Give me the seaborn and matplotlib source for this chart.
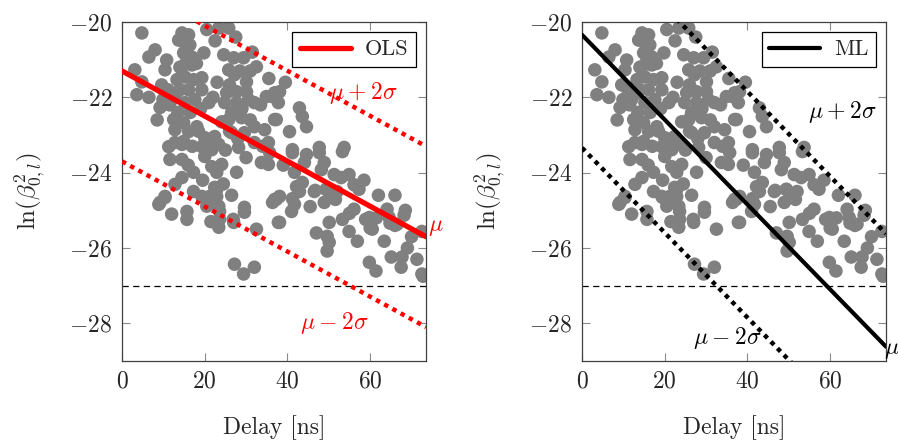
import numpy as np
import pandas as pd
import matplotlib
matplotlib.use("Agg")
import matplotlib.pyplot as plt
import seaborn as sns
from matplotlib.lines import Line2D

# ---- data ----
delay = [4.8, 14.5, 16.1, 13.7, 15.2, 16.4, 14.9, 16.9, 23.4, 25.8, 19.8, 24.6, 27.0, 29.4, 32.5,
         8.0, 6.5, 10.8, 10.4, 14.5, 16.9, 3.1, 4.8, 3.6, 9.6, 13.3, 15.2, 17.3, 19.3, 14.0,
         16.1, 19.3, 12.0, 15.2, 17.6, 21.0, 25.8, 27.2, 30.1, 26.0, 25.3, 27.7, 30.1, 24.8, 27.7,
         26.5, 30.6, 32.0, 34.9, 36.9, 37.8, 12.5, 14.9, 12.8, 16.1, 18.1, 12.8, 14.9, 20.0, 22.4,
         24.1, 25.8, 28.9, 26.5, 29.6, 32.0, 34.5, 32.0, 35.4, 36.9, 21.0, 23.4, 11.3, 14.5, 11.6,
         14.5, 19.3, 21.7, 28.2, 20.0, 21.7, 24.1, 22.9, 27.7, 33.7, 35.4, 17.3, 14.5, 12.8, 10.4,
         8.9, 17.3, 19.3, 21.0, 22.4, 22.9, 23.4, 20.5, 15.7, 15.7, 29.6, 23.6, 23.4, 27.0, 32.5,
         36.9, 37.8, 27.2, 32.0, 29.4, 35.7, 41.2, 44.6, 47.7, 53.3, 44.1, 48.9, 41.7, 48.2, 51.3,
         53.0, 54.9, 43.6, 42.9, 46.5, 49.4, 50.6, 48.9, 57.3, 37.3, 41.7, 41.0, 38.1, 50.1, 53.3,
         56.1, 59.8, 64.1, 64.6, 66.5, 54.9, 49.6, 50.1, 49.6, 56.9, 60.5, 63.4, 72.5, 59.8, 61.4,
         65.1, 67.7, 67.5, 71.3, 72.5, 38.1, 36.4, 42.9, 43.6, 44.6, 40.5, 37.3, 41.2, 47.7, 53.7,
         9.2, 10.4, 9.2, 19.5, 21.2, 22.9, 23.6, 26.9, 29.6, 36.4, 38.1, 41.2, 42.2, 46.7, 49.4,
         51.6, 55.0, 56.1, 58.9, 60.0, 64.8, 66.0, 68.2, 9.9, 11.1,
         14.0, 15.7, 18.0, 13.0, 16.5, 19.0, 22.0, 23.0, 28.5, 29.0, 31.0, 26.0, 28.0, 31.0, 33.5,
         34.0, 30.0, 25.0, 18.5, 11.5, 13.5, 17.0, 16.0, 19.5, 24.5, 26.5, 21.5, 12.0, 6.5, 8.5,
         20.5, 22.5, 27.5, 31.5, 35.5, 39.5, 39.0, 45.5, 47.0, 52.0, 58.5, 62.0, 66.0, 68.5, 70.0,
         69.0, 61.5, 72.8]
log_beta = [-20.29, -20.29, -20.34, -20.48, -20.56, -20.61, -20.82, -20.93, -20.16, -20.16, -20.82, -20.87, -20.95, -20.95, -21.19,
            -20.74, -20.93, -21.01, -21.27, -21.19, -21.14, -21.27, -21.59, -21.93, -21.67, -21.53, -21.46, -21.53, -21.48, -21.80,
            -21.80, -21.80, -22.06, -22.14, -22.06, -22.14, -21.27, -21.40, -21.59, -21.67, -21.88, -21.85, -21.85, -22.14, -22.14,
            -22.41, -22.06, -22.14, -21.98, -21.88, -22.14, -22.59, -22.67, -22.86, -22.91, -22.78, -23.20, -23.17, -23.07, -23.04,
            -22.65, -22.59, -22.54, -22.94, -22.94, -22.78, -22.86, -23.20, -23.20, -22.59, -23.31, -23.25, -23.31, -23.25, -23.65,
            -23.65, -23.31, -23.39, -23.33, -23.57, -23.84, -23.78, -23.99, -23.99, -23.73, -23.78, -23.99, -24.13, -24.31, -24.66,
            -24.84, -24.50, -24.63, -24.71, -24.39, -24.63, -24.89, -24.89, -25.03, -25.24, -24.92, -25.24, -25.45, -25.32, -25.50,
            -24.71, -25.32, -26.43, -26.51, -26.69, -23.47, -23.47, -23.52, -23.47, -23.44, -23.73, -23.73, -23.99, -23.92, -24.05,
            -24.13, -24.05, -24.26, -24.50, -24.50, -24.44, -24.63, -24.79, -24.44, -24.71, -24.84, -25.03, -25.32, -25.32, -25.24,
            -24.97, -25.19, -24.97, -25.19, -25.37, -25.56, -25.69, -25.85, -26.08, -25.82, -25.50, -25.82, -25.56, -26.38, -26.61,
            -26.24, -26.24, -26.51, -26.30, -26.69, -21.85, -21.98, -22.28, -22.51, -22.78, -22.91, -22.59, -23.39, -23.33, -23.33,
            -24.79, -24.63, -22.27, -24.66, -24.63, -24.45, -25.03, -25.24, -25.05, -24.79, -24.63, -24.69, -24.37, -24.47, -24.45,
            -24.71, -25.08, -24.32, -25.24, -25.47, -25.34, -25.40, -25.13, -22.06, -21.80,
            -21.2, -21.0, -21.1, -21.9, -22.4, -22.3, -22.0, -21.6, -21.3, -22.3, -21.3, -22.9, -23.1, -22.6, -22.2,
            -23.3, -23.6, -23.4, -22.9, -22.2, -22.4, -23.3, -23.8, -24.2, -24.3, -24.6, -25.3, -25.1, -22.0, -22.6,
            -20.2, -20.5, -20.4, -20.8, -21.5, -21.6, -23.8, -24.9, -25.6, -24.5, -24.2, -24.6, -24.6, -25.0, -25.7,
            -26.0, -25.2, -26.75]

n = min(len(delay), len(log_beta))
delay = delay[:n]
log_beta = log_beta[:n]

line_x = [0.0, 73.5]
ols_mu = [-21.3, -25.7]
ols_up = [-18.9, -23.3]
ols_lo = [-23.7, -28.1]
ml_x = [0.0, 73.5]
ml_mu = [-20.34, -28.62]
ml_up = [-17.34, -25.62]
ml_lo = [-23.34, -31.62]

x_ticks = [0, 20, 40, 60]
y_ticks = [-20, -22, -24, -26, -28]
threshold = -27.0

df = pd.DataFrame({"delay": delay, "lnb": log_beta})

# ---- style ----
sns.set_style("ticks")
plt.rcParams["font.family"] = ["serif"]
plt.rcParams["font.serif"] = ["cmr10", "DejaVu Serif"]
plt.rcParams["mathtext.fontset"] = "cm"
plt.rcParams["axes.formatter.use_mathtext"] = True
plt.rcParams["axes.unicode_minus"] = True

fig = plt.figure(figsize=(8.98, 4.41), dpi=100)
ax1 = fig.add_axes([122/898, 1-361/441, 304/898, 339/441])
ax2 = fig.add_axes([582/898, 1-361/441, 304/898, 339/441])

FS = 17

def setup(ax):
    sns.scatterplot(data=df, x="delay", y="lnb", ax=ax, color="#808080", s=95,
                    edgecolor="none", linewidth=0, zorder=2, legend=False)
    ax.axhline(threshold, color="black", lw=0.9, ls=(0, (5, 3.5)), zorder=1)
    ax.set_xlim(0, 73.5)
    ax.set_ylim(-29, -20)
    ax.set_xticks(x_ticks)
    ax.set_yticks(y_ticks)
    ax.tick_params(direction="in", length=6, width=0.8, color="#8a8a8a",
                   top=True, right=True, labelsize=FS, pad=7)
    for s in ax.spines.values():
        s.set_visible(True)
        s.set_color("#404040")
        s.set_linewidth(0.9)
    ax.set_xlabel("Delay [ns]", fontsize=FS, labelpad=16)
    ax.set_ylabel(r"$\ln(\beta_{0,l}^2)$", fontsize=FS + 1, labelpad=15)

setup(ax1)
setup(ax2)

LAB_UP = r"$\mu \:+\: 2\sigma$"
LAB_LO = r"$\mu \:-\: 2\sigma$"

# left: OLS
ax1.plot(line_x, ols_up, color="red", lw=3.2, ls=(0, (1, 1.1)), zorder=3)
ax1.plot(line_x, ols_lo, color="red", lw=3.2, ls=(0, (1, 1.1)), zorder=3)
sns.lineplot(x=line_x, y=ols_mu, ax=ax1, color="red", lw=3.8, zorder=4, legend=False)
ax1.text(58.3, -21.88, LAB_UP, color="red", fontsize=FS, ha="center", va="center")
ax1.text(51.3, -28.0, LAB_LO, color="red", fontsize=FS, ha="center", va="center")
ax1.text(74.0, -25.45, r"$\mu$", color="red", fontsize=FS, ha="left", va="center", clip_on=False)
leg1 = ax1.legend(handles=[Line2D([0], [0], color="red", lw=3.8)], labels=["OLS"],
                  loc="upper right", fontsize=FS - 1, fancybox=False, framealpha=1,
                  edgecolor="black", handlelength=2.3, borderaxespad=0.45,
                  borderpad=0.35, handletextpad=0.6)
leg1.get_frame().set_linewidth(0.9)

# right: ML
ax2.plot(ml_x, ml_up, color="black", lw=3.2, ls=(0, (1, 1.1)), zorder=3)
ax2.plot(ml_x, ml_lo, color="black", lw=3.2, ls=(0, (1, 1.1)), zorder=3)
sns.lineplot(x=ml_x, y=ml_mu, ax=ax2, color="black", lw=3.0, zorder=4, legend=False)
ax2.text(62.9, -22.4, LAB_UP, color="black", fontsize=FS, ha="center", va="center")
ax2.text(35.2, -28.4, LAB_LO, color="black", fontsize=FS, ha="center", va="center")
ax2.text(72.9, -28.7, r"$\mu$", color="black", fontsize=FS, ha="left", va="center", clip_on=False)
leg2 = ax2.legend(handles=[Line2D([0], [0], color="black", lw=3.0)], labels=["ML"],
                  loc="upper right", fontsize=FS - 1, fancybox=False, framealpha=1,
                  edgecolor="black", handlelength=2.3, borderaxespad=0.45,
                  borderpad=0.35, handletextpad=0.6)
leg2.get_frame().set_linewidth(0.9)

fig.savefig("out.png", dpi=100)
